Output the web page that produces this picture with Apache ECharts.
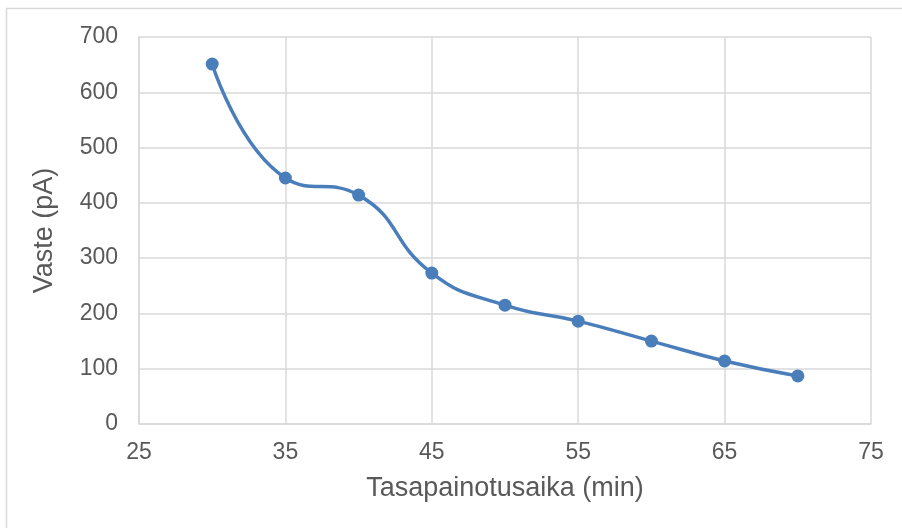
<!DOCTYPE html>
<html>
<head>
<meta charset="utf-8">
<script src="https://cdn.jsdelivr.net/npm/echarts@6/dist/echarts.min.js"></script>
<style>
  html, body { margin: 0; padding: 0; background: #fff; }
  #chart { width: 902px; height: 528px; }
</style>
</head>
<body>
<div id="chart"></div>
<script>
// Equilibration time (min) versus response (pA)
const times = [30, 35, 40, 45, 50, 55, 60, 65, 70];
const response = [651, 445, 414, 273, 215, 186, 150, 114, 87];

const xTitle = 'Tasapainotusaika (min)';
const yTitle = 'Vaste (pA)';

const chart = echarts.init(document.getElementById('chart'));
const textColor = '#595959';
const gridColor = '#d9d9d9';
const font = 'Liberation Sans, Arial, sans-serif';

chart.setOption({
  animation: false,
  backgroundColor: '#fff',
  graphic: [{
    type: 'rect',
    shape: { x: 6.5, y: 8.5, width: 910, height: 530 },
    style: { fill: 'none', stroke: '#d9d9d9', lineWidth: 1.5 },
    silent: true
  }],
  grid: { left: 139, right: 31, top: 37, bottom: 104 },
  xAxis: {
    type: 'value',
    min: 25, max: 75, interval: 10,
    name: xTitle,
    nameLocation: 'middle',
    nameGap: 51,
    nameTextStyle: { color: textColor, fontSize: 27, fontFamily: font },
    axisLine: { show: true, lineStyle: { color: gridColor, width: 1.5 } },
    axisTick: { show: false },
    axisLabel: { color: textColor, fontSize: 23, fontFamily: font, margin: 17 },
    splitLine: { show: true, lineStyle: { color: gridColor, width: 1.5 } }
  },
  yAxis: {
    type: 'value',
    min: 0, max: 700, interval: 100,
    name: yTitle,
    nameLocation: 'middle',
    nameGap: 81,
    nameTextStyle: { color: textColor, fontSize: 27, fontFamily: font },
    axisLine: { show: true, lineStyle: { color: gridColor, width: 1.5 } },
    axisTick: { show: false },
    axisLabel: { color: textColor, fontSize: 23, fontFamily: font, margin: 21 },
    splitLine: { show: true, lineStyle: { color: gridColor, width: 1.5 } }
  },
  series: [{
    type: 'line',
    data: times.map((t, i) => [t, response[i]]),
    smooth: 0.5,
    symbol: 'circle',
    symbolSize: 13,
    itemStyle: { color: '#4a7ebb' },
    lineStyle: { color: '#4a7ebb', width: 3.5 }
  }]
});
</script>
</body>
</html>
